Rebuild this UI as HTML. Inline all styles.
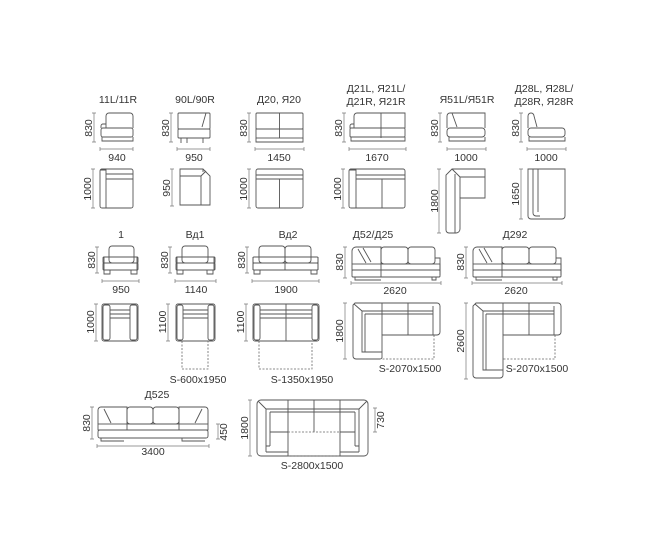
<!DOCTYPE html>
<html><head><meta charset="utf-8"><style>
html,body{margin:0;padding:0;background:#fff}
svg{display:block}
text{font-family:"Liberation Sans","DejaVu Sans",sans-serif;font-size:10.5px;fill:#333}
.s{fill:none;stroke:#555;stroke-width:0.9}
.d{fill:none;stroke:#777;stroke-width:0.7}
.q{fill:none;stroke:#666;stroke-width:0.8;stroke-dasharray:2 1.5}
</style></head><body>
<svg width="650" height="540" viewBox="0 0 650 540" xmlns="http://www.w3.org/2000/svg">
<!-- ============ ROW 1 titles ============ -->
<text x="118" y="103" text-anchor="middle">11L/11R</text>
<text x="195" y="103" text-anchor="middle">90L/90R</text>
<text x="279" y="103" text-anchor="middle">Д20, Я20</text>
<text x="376" y="92" text-anchor="middle">Д21L, Я21L/</text>
<text x="376" y="105" text-anchor="middle">Д21R, Я21R</text>
<text x="467" y="103" text-anchor="middle">Я51L/Я51R</text>
<text x="544" y="92" text-anchor="middle">Д28L, Я28L/</text>
<text x="544" y="105" text-anchor="middle">Д28R, Я28R</text>

<!-- 11L front -->
<g class="s">
<path d="M106 128 V116 a3 3 0 0 1 3-3 H130 a3 3 0 0 1 3 3 V128"/>
<path d="M101 128 V126 a2 2 0 0 1 2-2 H106"/>
<rect x="101" y="128" width="32" height="9" rx="2"/>
<path d="M102 137 V141 H133 V137"/>
</g>
<g class="d"><path d="M94 113V142M92 113h4M92 142h4M100 149H133M100 147v4M133 147v4"/></g>
<text transform="translate(92,128) rotate(-90)" text-anchor="middle">830</text>
<text x="117" y="161" text-anchor="middle">940</text>
<!-- 11L plan -->
<g class="s"><rect x="100" y="169" width="33" height="39" rx="2"/><path d="M100 170 H106 V208M106 174H133M106 179H133"/></g>
<g class="d"><path d="M93 169V208M91 169h4M91 208h4"/></g>
<text transform="translate(91,189) rotate(-90)" text-anchor="middle">1000</text>

<!-- 90L front -->
<g class="s">
<rect x="178" y="113" width="32" height="16" rx="1"/><path d="M206 113 L202 127"/>
<rect x="178" y="129" width="32" height="9" rx="1"/>
<path d="M181 138V143M187 138V143M203 138V143"/>
</g>
<g class="d"><path d="M171 113V142M169 113h4M169 142h4M177 149H210M177 147v4M210 147v4"/></g>
<text transform="translate(169,128) rotate(-90)" text-anchor="middle">830</text>
<text x="194" y="161" text-anchor="middle">950</text>
<!-- 90L plan -->
<g class="s"><path d="M180 169 H203 L210 176 V205 H180 Z"/><path d="M180 176 H201 L206 171 M201 176 V205 M203 169 V172"/></g>
<g class="d"><path d="M172 169V206M170 169h4M170 206h4"/></g>
<text transform="translate(170,188) rotate(-90)" text-anchor="middle">950</text>

<!-- Д20 front -->
<g class="s">
<rect x="256" y="113" width="47" height="16" rx="1"/><path d="M279.5 113V138"/>
<rect x="256" y="129" width="47" height="9"/>
<path d="M256 138 V142 H303 V138"/>
</g>
<g class="d"><path d="M249 113V142M247 113h4M247 142h4M255 149H304M255 147v4M304 147v4"/></g>
<text transform="translate(247,128) rotate(-90)" text-anchor="middle">830</text>
<text x="279" y="161" text-anchor="middle">1450</text>
<!-- Д20 plan -->
<g class="s"><rect x="256" y="169" width="47" height="39" rx="2"/><path d="M256 175H303M256 179H303M279.5 179V208"/></g>
<g class="d"><path d="M249 169V208M247 169h4M247 208h4"/></g>
<text transform="translate(247,189) rotate(-90)" text-anchor="middle">1000</text>

<!-- Д21L front -->
<g class="s">
<path d="M354 128 V116 a3 3 0 0 1 3-3 H405 V128"/><path d="M350 128 V126 a2 2 0 0 1 2-2 H354"/>
<path d="M381 113V138"/>
<rect x="350" y="128" width="55" height="9" rx="1"/>
<path d="M351 137V141H405V137"/>
</g>
<g class="d"><path d="M344 113V142M342 113h4M342 142h4M349 149H406M349 147v4M406 147v4"/></g>
<text transform="translate(342,128) rotate(-90)" text-anchor="middle">830</text>
<text x="377" y="161" text-anchor="middle">1670</text>
<!-- Д21L plan -->
<g class="s"><rect x="349" y="169" width="56" height="39" rx="2"/><path d="M349 170H356V208M356 175H405M356 179H405M382 179V208"/></g>
<g class="d"><path d="M343 169V208M341 169h4M341 208h4"/></g>
<text transform="translate(341,189) rotate(-90)" text-anchor="middle">1000</text>

<!-- Я51L front -->
<g class="s">
<path d="M447 128 V116 a3 3 0 0 1 3-3 H485 V128"/><path d="M452 113 L457 127"/>
<rect x="447" y="128" width="38" height="9" rx="3"/>
<path d="M449 137V141H485V137"/>
</g>
<g class="d"><path d="M440 113V142M438 113h4M438 142h4M447 149H486M447 147v4M486 147v4"/></g>
<text transform="translate(438,128) rotate(-90)" text-anchor="middle">830</text>
<text x="466" y="161" text-anchor="middle">1000</text>
<!-- Я51L plan -->
<g class="s"><path d="M452 169 H485 V198 H460 V229 a4 4 0 0 1-4 4 H449 a3 3 0 0 1-3-3 V175 Z"/><path d="M452 169 L460 177 H485 M460 177 V198 M455 174 V233"/></g>
<g class="d"><path d="M439 169V233M437 169h4M437 233h4"/></g>
<text transform="translate(438,201) rotate(-90)" text-anchor="middle">1800</text>

<!-- Д28 front -->
<g class="s">
<path d="M528 128 V116 a3 3 0 0 1 6 0 L537 127"/>
<rect x="528" y="128" width="37" height="9" rx="3"/>
<path d="M529 137V141H565V137"/>
</g>
<g class="d"><path d="M521 113V142M519 113h4M519 142h4M527 149H566M527 147v4M566 147v4"/></g>
<text transform="translate(519,128) rotate(-90)" text-anchor="middle">830</text>
<text x="546" y="161" text-anchor="middle">1000</text>
<!-- Д28 plan -->
<g class="s"><path d="M528 169 H565 V216 a3 3 0 0 1-3 3 H531 a3 3 0 0 1-3-3 Z"/><path d="M533 169 V213 a3 3 0 0 0 3 3 H540 M538 169 V212"/></g>
<g class="d"><path d="M521 169V219M519 169h4M519 219h4"/></g>
<text transform="translate(519,194) rotate(-90)" text-anchor="middle">1650</text>

<!-- ============ ROW 2 ============ -->
<text x="121" y="238" text-anchor="middle">1</text>
<text x="195" y="238" text-anchor="middle">Вд1</text>
<text x="288" y="238" text-anchor="middle">Вд2</text>
<text x="373" y="238" text-anchor="middle">Д52/Д25</text>
<text x="515" y="238" text-anchor="middle">Д292</text>

<!-- 1 front -->
<g class="s"><rect x="109" y="246" width="25" height="17" rx="3"/><rect x="103" y="257" width="35" height="6" rx="1"/><rect x="103" y="263" width="35" height="7" rx="1"/><path d="M104 270V274H110V270M131 270V274H137V270M104 257V270M137 257V270"/></g>
<g class="d"><path d="M97 247V273M95 247h4M95 273h4M102 281H139M102 279v4M139 279v4"/></g>
<text transform="translate(95,260) rotate(-90)" text-anchor="middle">830</text>
<text x="121" y="293" text-anchor="middle">950</text>
<g class="s"><rect x="102" y="304" width="36" height="37" rx="2"/><rect x="103" y="305" width="7" height="35" rx="2"/><rect x="130" y="305" width="7" height="35" rx="2"/><path d="M110 310H130M110 314H130M110 318H130"/></g>
<g class="d"><path d="M96 304V341M94 304h4M94 341h4"/></g>
<text transform="translate(94,322) rotate(-90)" text-anchor="middle">1000</text>

<!-- Вд1 front -->
<g class="s"><rect x="182" y="246" width="26" height="17" rx="3"/><rect x="176" y="257" width="39" height="6" rx="1"/><rect x="176" y="263" width="39" height="7" rx="1"/><path d="M177 270V274H183V270M207 270V274H213V270M177 257V270M214 257V270"/></g>
<g class="d"><path d="M170 247V273M168 247h4M168 273h4M175 281H216M175 279v4M216 279v4"/></g>
<text transform="translate(168,260) rotate(-90)" text-anchor="middle">830</text>
<text x="196" y="293" text-anchor="middle">1140</text>
<g class="s"><rect x="176" y="304" width="39" height="37" rx="2"/><rect x="177" y="305" width="6" height="35" rx="2"/><rect x="208" y="305" width="6" height="35" rx="2"/><path d="M183 310H208M183 314H208M183 318H208"/></g>
<path class="q" d="M182 341V369H208V341"/>
<g class="d"><path d="M168 304V341M166 304h4M166 341h4"/></g>
<text transform="translate(166,322) rotate(-90)" text-anchor="middle">1100</text>
<text x="198" y="383" text-anchor="middle">S-600x1950</text>

<!-- Вд2 front -->
<g class="s"><rect x="259" y="246" width="26" height="17" rx="3"/><rect x="285" y="246" width="26" height="17" rx="3"/><rect x="253" y="257" width="65" height="6" rx="1"/><rect x="253" y="263" width="65" height="7" rx="1"/><path d="M285 263V270M254 270V274H260V270M311 270V274H317V270M253 257V270M318 257V270"/></g>
<g class="d"><path d="M247 247V273M245 247h4M245 273h4M252 281H319M252 279v4M319 279v4"/></g>
<text transform="translate(245,260) rotate(-90)" text-anchor="middle">830</text>
<text x="286" y="293" text-anchor="middle">1900</text>
<g class="s"><rect x="253" y="304" width="66" height="37" rx="2"/><rect x="254" y="305" width="6" height="35" rx="2"/><rect x="312" y="305" width="6" height="35" rx="2"/><path d="M260 310H312M260 314H312M260 318H312M286 304V341"/></g>
<path class="q" d="M259 341V369H312V341"/>
<g class="d"><path d="M246 304V341M244 304h4M244 341h4"/></g>
<text transform="translate(244,322) rotate(-90)" text-anchor="middle">1100</text>
<text x="302" y="383" text-anchor="middle">S-1350x1950</text>

<!-- Д52 front -->
<g class="s">
<path d="M352 264 V251 a4 4 0 0 1 4-4 H381 V264"/><path d="M358 249 L366 263 M363 248 L371 262"/>
<rect x="381" y="247" width="27" height="17" rx="3"/><rect x="408" y="247" width="27" height="17" rx="3"/>
<path d="M435 258H440V275"/>
<rect x="352" y="264" width="88" height="6"/><rect x="352" y="270" width="88" height="7" rx="1"/>
<path d="M381 264V277M355 277V280H381M432 277V280H436V277"/>
</g>
<g class="d"><path d="M345 247V278M343 247h4M343 278h4M351 283H441M351 281v4M441 281v4"/></g>
<text transform="translate(343,262) rotate(-90)" text-anchor="middle">830</text>
<text x="395" y="294" text-anchor="middle">2620</text>
<g class="s">
<path d="M355 303 H437 a3 3 0 0 1 3 3 V332 a3 3 0 0 1-3 3 H382 V357 a2 2 0 0 1-2 2 H356 a3 3 0 0 1-3-3 V305 Z"/>
<path d="M354 304 L362 311 H433 M362 311 V352 H382 M365 314 V352 M365 314 H433 M382 303 V335 M408 303 V335 M433 306 V335"/>
</g>
<path class="q" d="M382 335V359H434V335"/>
<g class="d"><path d="M345 303V359M343 303h4M343 359h4"/></g>
<text transform="translate(343,331) rotate(-90)" text-anchor="middle">1800</text>
<text x="410" y="372" text-anchor="middle">S-2070x1500</text>

<!-- Д292 front -->
<g class="s">
<path d="M473 264 V251 a4 4 0 0 1 4-4 H502 V264"/><path d="M479 249 L487 263 M484 248 L492 262"/>
<rect x="502" y="247" width="27" height="17" rx="3"/><rect x="529" y="247" width="27" height="17" rx="3"/>
<path d="M556 258H561V275"/>
<rect x="473" y="264" width="88" height="6"/><rect x="473" y="270" width="88" height="7" rx="1"/>
<path d="M502 264V277M476 277V280H502M553 277V280H557V277"/>
</g>
<g class="d"><path d="M466 247V278M464 247h4M464 278h4M472 283H562M472 281v4M562 281v4"/></g>
<text transform="translate(464,262) rotate(-90)" text-anchor="middle">830</text>
<text x="516" y="294" text-anchor="middle">2620</text>
<g class="s">
<path d="M476 303 H558 a3 3 0 0 1 3 3 V332 a3 3 0 0 1-3 3 H503 V375 a3 3 0 0 1-3 3 H476 a3 3 0 0 1-3-3 V306 Z"/>
<path d="M475 304 L483 311 H554 M483 311 V370 H503 M486 314 V370 M486 314 H554 M503 303 V335 M529 303 V335 M554 306 V335"/>
</g>
<path class="q" d="M503 335V359H555V335"/>
<g class="d"><path d="M466 303V379M464 303h4M464 379h4"/></g>
<text transform="translate(464,341) rotate(-90)" text-anchor="middle">2600</text>
<text x="537" y="372" text-anchor="middle">S-2070x1500</text>

<!-- ============ ROW 3 ============ -->
<text x="157" y="398" text-anchor="middle">Д525</text>
<g class="s">
<path d="M98 424 V410 a3 3 0 0 1 3-3 H127 V424"/><path d="M104 409 L111 423"/>
<rect x="127" y="407" width="26" height="17" rx="3"/><rect x="153" y="407" width="26" height="17" rx="3"/>
<path d="M179 424 V407 H205 a3 3 0 0 1 3 3 V424"/><path d="M202 409 L195 423"/>
<rect x="98" y="424" width="110" height="6"/><rect x="98" y="430" width="110" height="8" rx="2"/>
<path d="M127 424V430M179 424V430M101 438V441H124M182 438V441H205"/>
</g>
<g class="d"><path d="M92 407V439M90 407h4M90 439h4M97 446H209M97 444v4M209 444v4M218 424V439M216 424h4M216 439h4"/></g>
<text transform="translate(90,423) rotate(-90)" text-anchor="middle">830</text>
<text x="227" y="432" transform="rotate(-90,227,432)" text-anchor="middle">450</text>
<text x="153" y="455" text-anchor="middle">3400</text>

<!-- U corner plan -->
<g class="s">
<rect x="257" y="400" width="111" height="56" rx="4"/>
<path d="M258 401 L266 409 H359 L367 401 M266 409 V452 M359 409 V452 M270 412 H355 M270 412 V446 M355 412 V446 M266 446 H270 M355 446 H359 M288 400 V456 M314 400 V432 M340 400 V456 M270 432 H288 M340 432 H355 M266 452 H288 M340 452 H359"/>
</g>
<path class="q" d="M288 432H340M288 456H340"/>
<g class="d"><path d="M250 400V456M248 400h4M248 456h4M375 408V432M373 408h4M373 432h4"/></g>
<text transform="translate(248,428) rotate(-90)" text-anchor="middle">1800</text>
<text x="384" y="420" transform="rotate(-90,384,420)" text-anchor="middle">730</text>
<text x="312" y="469" text-anchor="middle">S-2800x1500</text>
</svg>
</body></html>
